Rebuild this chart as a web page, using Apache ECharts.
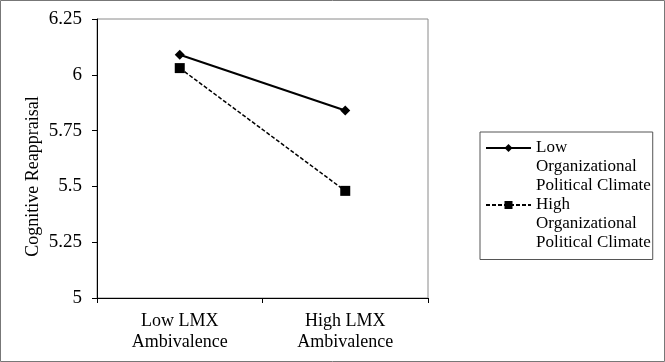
<!DOCTYPE html>
<html>
<head>
<meta charset="utf-8">
<script src="https://cdn.jsdelivr.net/npm/echarts@6/dist/echarts.min.js"></script>
<style>
html,body{margin:0;padding:0;background:#fff;}
#c{width:665px;height:362px;}
</style>
</head>
<body>
<div id="c"></div>
<script>
const categories = ['Low LMX\nAmbivalence', 'High LMX\nAmbivalence'];
const seriesNames = ['Low\nOrganizational\nPolitical Climate', 'High\nOrganizational\nPolitical Climate'];
const lowClimate = [6.09, 5.84];
const highClimate = [6.03, 5.48];
const yMin = 5, yMax = 6.25, yInterval = 0.25;
const yTitle = 'Cognitive Reappraisal';

const font = 'Liberation Serif';
const chart = echarts.init(document.getElementById('c'), null, {renderer: 'canvas'});
chart.setOption({
  animation: false,
  backgroundColor: '#fff',
  textStyle: {fontFamily: font, color: '#000'},
  graphic: [{
    type: 'rect', silent: true, z: -1,
    shape: {x: 0.5, y: 0.5, width: 664, height: 361},
    style: {fill: 'none', stroke: '#777', lineWidth: 1}
  }],
  grid: {left: 97, right: 237, top: 19, bottom: 64, show: true, borderColor: '#8a8a8a', borderWidth: 1},
  xAxis: {
    type: 'category', data: categories, boundaryGap: true,
    axisLine: {lineStyle: {color: '#000', width: 1}},
    axisTick: {show: true, length: 5, inside: false, lineStyle: {color: '#000'}},
    axisLabel: {fontFamily: font, fontSize: 18, color: '#000', margin: 13, lineHeight: 21}
  },
  yAxis: {
    type: 'value', min: yMin, max: yMax, interval: yInterval,
    name: yTitle, nameLocation: 'middle', nameGap: 55, nameRotate: 90,
    nameTextStyle: {fontFamily: font, fontSize: 18, color: '#000', padding: [0, 36, 0, 0]},
    axisLine: {show: true, lineStyle: {color: '#000', width: 1}},
    axisTick: {show: true, length: 5, lineStyle: {color: '#000'}},
    splitLine: {show: false},
    axisLabel: {fontFamily: font, fontSize: 19, color: '#000', margin: 15}
  },
  legend: {
    orient: 'vertical', left: 480, top: 132,
    padding: [-31.5, 2, 7, 5], itemGap: -38,
    itemWidth: 45, itemHeight: 10,
    borderColor: '#555', borderWidth: 1,
    formatter: function (name) { return '\n\n' + name; },
    textStyle: {fontFamily: font, fontSize: 17, color: '#000', lineHeight: 19},
    data: seriesNames
  },
  series: [{
    name: seriesNames[0], type: 'line', data: lowClimate,
    symbol: 'diamond', symbolSize: 10,
    lineStyle: {color: '#000', width: 2, type: 'solid'},
    itemStyle: {color: '#000'}
  }, {
    name: seriesNames[1], type: 'line', data: highClimate,
    symbol: 'rect', symbolSize: 10,
    lineStyle: {color: '#000', width: 1.5, type: [4, 2]},
    itemStyle: {color: '#000'}
  }]
});
</script>
</body>
</html>
